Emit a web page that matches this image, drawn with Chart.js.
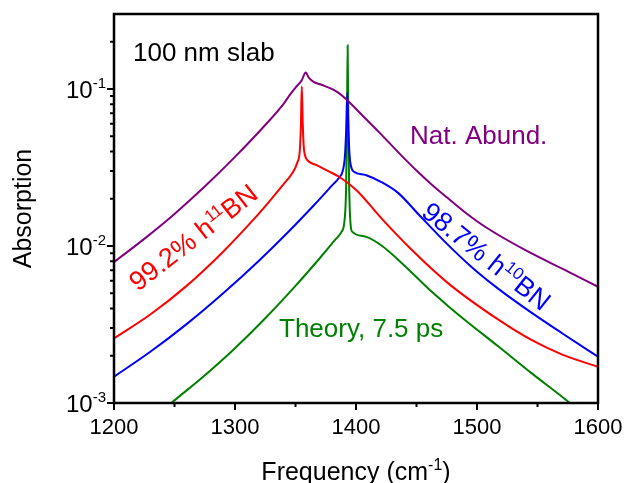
<!DOCTYPE html>
<html>
<head>
<meta charset="utf-8">
<script src="https://cdn.jsdelivr.net/npm/chart.js@4.4.0/dist/chart.umd.min.js"></script>
<style>
  html, body { margin: 0; padding: 0; background: #fff; }
  canvas { display: block; }
</style>
</head>
<body>
<canvas id="chart" width="627" height="483"></canvas>
<script>
const FONT = "'Liberation Sans', Arial, Helvetica, sans-serif";

// frequency (cm-1) / absorption
const natFreq = [1200, 1225, 1250, 1275, 1300, 1325, 1340, 1345, 1350, 1355, 1358.5, 1361, 1365, 1372, 1380, 1385, 1391, 1408, 1419, 1437, 1450, 1462, 1475, 1490, 1507, 1540, 1570, 1600];
const natAbs = [0.0079, 0.0111, 0.016, 0.0239, 0.0369, 0.0589, 0.08, 0.091, 0.102, 0.113, 0.127, 0.118, 0.111, 0.106, 0.1, 0.095, 0.0873, 0.0646, 0.0531, 0.038, 0.0302, 0.0248, 0.0204, 0.0164, 0.0132, 0.0094, 0.0072, 0.0055];

const h11Freq = [1200, 1230, 1260, 1290, 1315, 1330, 1340, 1347, 1351.5, 1353.6, 1354.5, 1355.2, 1356, 1356.8, 1357.8, 1359.6, 1367, 1378, 1386, 1400, 1422, 1446, 1476, 1518, 1545, 1570, 1600];
const h11Abs = [0.00258, 0.00366, 0.00557, 0.00916, 0.01465, 0.0199, 0.0247, 0.0288, 0.034, 0.041, 0.06, 0.1035, 0.06, 0.043, 0.038, 0.0353, 0.0328, 0.0297, 0.0276, 0.0228, 0.0147, 0.00945, 0.0058, 0.00338, 0.00252, 0.00204, 0.0017];

const h10Freq = [1200, 1230, 1260, 1290, 1320, 1345, 1365, 1380, 1386, 1389, 1390.8, 1391.9, 1392.8, 1393.7, 1394.8, 1396.5, 1398.3, 1408, 1421, 1435, 1452, 1475, 1495, 1518, 1545, 1570, 1600];
const h10Abs = [0.00147, 0.00212, 0.00318, 0.00498, 0.00809, 0.0125, 0.0181, 0.0242, 0.0272, 0.030, 0.037, 0.055, 0.095, 0.055, 0.037, 0.031, 0.0297, 0.0283, 0.0255, 0.0217, 0.0158, 0.01035, 0.00741, 0.00531, 0.00376, 0.00279, 0.00197];

const theoryFreq = [1240, 1247.5, 1271, 1298, 1324, 1350, 1370, 1383, 1388, 1390.5, 1391.9, 1392.6, 1393.1, 1393.6, 1394.3, 1395.6, 1397, 1408, 1421.6, 1435, 1449, 1462, 1476, 1490, 1518, 1545, 1574, 1580];
const theoryAbs = [0.00088, 0.001, 0.00141, 0.00216, 0.0034, 0.00557, 0.00835, 0.011, 0.0123, 0.0145, 0.025, 0.07, 0.19, 0.07, 0.025, 0.0135, 0.0123, 0.01146, 0.01, 0.00815, 0.00644, 0.00516, 0.00415, 0.00338, 0.00228, 0.00155, 0.00104, 0.00095];

const xMajorTicks = [1200, 1300, 1400, 1500, 1600];
const xMinorTicks = [1250, 1350, 1450, 1550];
const yDecades = [-3, -2, -1];
const yMinorTicks = [0.002, 0.003, 0.004, 0.005, 0.006, 0.007, 0.008, 0.009,
  0.02, 0.03, 0.04, 0.05, 0.06, 0.07, 0.08, 0.09, 0.2];

const COLORS = { nat: '#800080', h11: '#ff0000', h10: '#0000ff', theory: '#008000' };

function pts(xs, ys) {
  return xs.map((x, i) => ({ x: x, y: ys[i] }));
}

function line(data, color) {
  return {
    data: data,
    borderColor: color,
    borderWidth: 2,
    pointRadius: 0,
    fill: false,
    cubicInterpolationMode: 'monotone',
  };
}

// text with superscript pieces, drawn from the current origin on the baseline
function drawRuns(ctx, runs, size, supSize, rise) {
  let x = 0;
  runs.forEach((r) => {
    ctx.font = `${r.sup ? supSize : size}px ${FONT}`;
    ctx.fillText(r.t, x, r.sup ? -rise : 0);
    x += ctx.measureText(r.t).width;
  });
  return x;
}

function runsWidth(ctx, runs, size, supSize) {
  let w = 0;
  runs.forEach((r) => {
    ctx.font = `${r.sup ? supSize : size}px ${FONT}`;
    w += ctx.measureText(r.t).width;
  });
  return w;
}

const decorations = {
  id: 'decorations',
  afterDatasetsDraw(chart) {
    const { ctx, chartArea: a } = chart;
    const xs = chart.scales.x;
    const ys = chart.scales.y;
    ctx.save();

    // frame
    ctx.strokeStyle = '#000';
    ctx.lineWidth = 2.5;
    ctx.strokeRect(a.left, a.top, a.right - a.left, a.bottom - a.top);

    // ticks, outward
    ctx.lineWidth = 2;
    ctx.beginPath();
    xMajorTicks.forEach((v) => {
      const px = xs.getPixelForValue(v);
      ctx.moveTo(px, a.bottom); ctx.lineTo(px, a.bottom + 7);
    });
    xMinorTicks.forEach((v) => {
      const px = xs.getPixelForValue(v);
      ctx.moveTo(px, a.bottom); ctx.lineTo(px, a.bottom + 4);
    });
    yDecades.forEach((d) => {
      const py = ys.getPixelForValue(Math.pow(10, d));
      ctx.moveTo(a.left, py); ctx.lineTo(a.left - 7, py);
    });
    yMinorTicks.forEach((v) => {
      const py = ys.getPixelForValue(v);
      ctx.moveTo(a.left, py); ctx.lineTo(a.left - 4, py);
    });
    ctx.stroke();

    // y tick labels 10^n
    ctx.fillStyle = '#000';
    ctx.textBaseline = 'alphabetic';
    ctx.textAlign = 'right';
    yDecades.forEach((d) => {
      const py = ys.getPixelForValue(Math.pow(10, d));
      const exp = '-' + (-d);
      ctx.font = `15px ${FONT}`;
      const ew = ctx.measureText(exp).width;
      ctx.fillText(exp, a.left - 8, py - 1);
      ctx.font = `24px ${FONT}`;
      ctx.fillText('10', a.left - 8 - ew, py + 9);
    });

    // x axis title
    ctx.textAlign = 'left';
    const xTitle = [{ t: 'Frequency (cm' }, { t: '-1', sup: true }, { t: ')' }];
    const tw = runsWidth(ctx, xTitle, 25, 16);
    ctx.save();
    ctx.translate((a.left + a.right) / 2 - tw / 2, 480);
    drawRuns(ctx, xTitle, 25, 16, 10);
    ctx.restore();

    // annotations
    ctx.font = `26px ${FONT}`;
    ctx.fillStyle = '#000';
    ctx.fillText('100 nm slab', 133, 61);
    ctx.fillStyle = COLORS.nat;
    ctx.fillText('Nat. Abund.', 410, 144);
    ctx.fillStyle = COLORS.theory;
    ctx.fillText('Theory, 7.5 ps', 279, 337);

    ctx.save();
    ctx.fillStyle = COLORS.h11;
    ctx.translate(138, 292);
    ctx.rotate(-38 * Math.PI / 180);
    drawRuns(ctx, [{ t: '99.2% h' }, { t: '11', sup: true }, { t: 'BN' }], 27, 17, 10);
    ctx.restore();

    ctx.save();
    ctx.fillStyle = COLORS.h10;
    ctx.translate(420, 215);
    ctx.rotate(38.6 * Math.PI / 180);
    drawRuns(ctx, [{ t: '98.7% h' }, { t: '10', sup: true }, { t: 'BN' }], 27, 17, 10);
    ctx.restore();

    ctx.restore();
  },
};

new Chart(document.getElementById('chart').getContext('2d'), {
  type: 'line',
  data: {
    datasets: [
      line(pts(natFreq, natAbs), COLORS.nat),
      line(pts(h11Freq, h11Abs), COLORS.h11),
      line(pts(h10Freq, h10Abs), COLORS.h10),
      line(pts(theoryFreq, theoryAbs), COLORS.theory),
    ],
  },
  options: {
    responsive: false,
    animation: false,
    devicePixelRatio: 1,
    layout: { padding: { top: 14, right: 29, left: 0, bottom: 0 } },
    plugins: { legend: { display: false }, tooltip: { enabled: false } },
    scales: {
      x: {
        type: 'linear',
        min: 1200,
        max: 1600,
        grid: { display: false, drawTicks: false },
        border: { display: false },
        ticks: {
          stepSize: 100,
          maxRotation: 0,
          padding: 12,
          color: '#000',
          font: { family: FONT, size: 22 },
          callback: (v) => String(v),
        },
        afterFit: (s) => {
          s.height = 80;
          s.paddingLeft = 0;
          s.paddingRight = 0;
        },
      },
      y: {
        type: 'logarithmic',
        min: 0.001,
        max: 0.3,
        grid: { display: false, drawTicks: false },
        border: { display: false },
        ticks: { display: false },
        title: {
          display: true,
          text: 'Absorption',
          color: '#000',
          font: { family: FONT, size: 25 },
          padding: { top: 9, bottom: 0 },
        },
        afterFit: (s) => { s.width = 114; },
      },
    },
  },
  plugins: [decorations],
});
</script>
</body>
</html>
